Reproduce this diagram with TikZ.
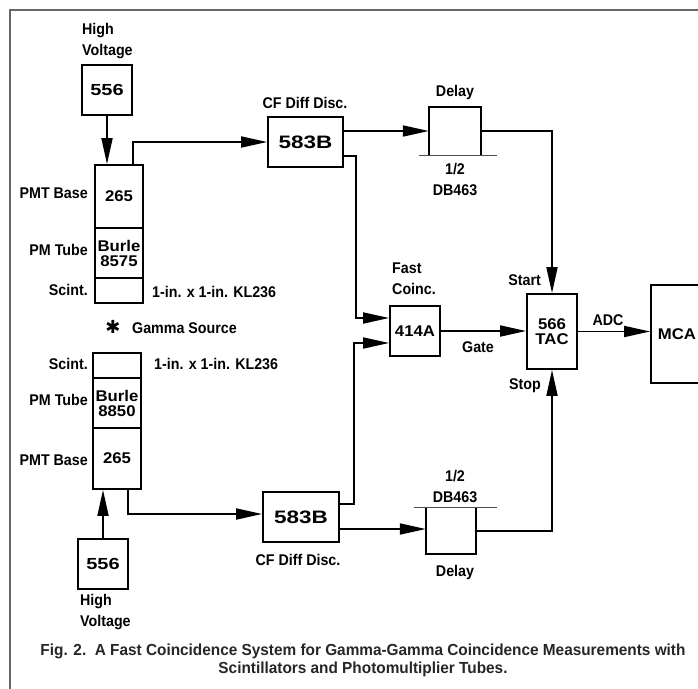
\documentclass[tikz,border=0pt]{standalone}
\usepackage{fontspec}
\setmainfont{Liberation Sans}
\newfontfamily\labf[FakeStretch=0.92]{Liberation Sans}
\newfontfamily\widef[FakeStretch=1.25]{Liberation Sans}
\newfontfamily\midf[FakeStretch=1.08]{Liberation Sans}
\newfontfamily\capf[FakeStretch=0.96]{Liberation Sans}
\newfontfamily\symf{DejaVu Sans}
\usetikzlibrary{arrows.meta}
\newcommand\lblfont{\labf\bfseries\fontsize{15.5}{21}\selectfont}
\newcommand\boxfont{\midf\bfseries\fontsize{15.5}{17}\selectfont}
\newcommand\bigfont{\widef\bfseries\fontsize{16}{18}\selectfont}
\newcommand\hugefont{\widef\bfseries\fontsize{18}{20}\selectfont}
\tikzset{
  blk/.style={draw, line width=1.8pt, inner sep=0pt, align=center, font=\boxfont},
  ghost/.style={draw=none, inner sep=0pt},
  lbl/.style={inner sep=0pt, font=\lblfont},
  arr/.style={line width=1.8pt, -{Triangle[length=26pt,width=11pt]}},
  side/.style={line width=1.8pt},
  thin/.style={line width=1pt, black!70},
  frame/.style={line width=1.2pt, black!60}
}
\begin{document}
\begin{tikzpicture}[x=1pt,y=-1pt]
\useasboundingbox (0,0) rectangle (698,688);
\clip (0,0) rectangle (698,688);
\draw[frame] (10,690) -- (10,10) -- (700,10);

% ---------- upper detector ----------
\node[blk, font=\bigfont, minimum width=50pt, minimum height=50pt] (hvT) at (107,90) {556};
\node[lbl, anchor=west, align=left] (hvTl) at (82,41.5) {High\\Voltage};
\node[blk, minimum width=48pt, minimum height=63pt] (baseT) at (119,196.5) {265};
\node[blk, minimum width=48pt, minimum height=50pt] (tubeT) at (119,253) {Burle\\[-2pt]8575};
\node[blk, minimum width=48pt, minimum height=25pt] (scT) at (119,290.5) {};
\node[lbl, anchor=east] (pbT) at (88,193) {PMT Base};
\node[lbl, anchor=east] (ptT) at (88,250) {PM Tube};
\node[lbl, anchor=east] (scTl) at (88,290) {Scint.};
\node[lbl, anchor=west] (klT) at (152,292) {1-in. x 1-in. KL236};

% gamma source
\node[inner sep=0pt, font=\symf\bfseries\fontsize{18}{18}\selectfont] (star) at (113,327) {✱};
\node[lbl, anchor=west] (gam) at (132,328) {Gamma Source};

% ---------- lower detector ----------
\node[blk, minimum width=48pt, minimum height=25pt] (scB) at (117,365.5) {};
\node[blk, minimum width=48pt, minimum height=50pt] (tubeB) at (117,403) {Burle\\[-2pt]8850};
\node[blk, minimum width=48pt, minimum height=61pt] (baseB) at (117,458.5) {265};
\node[lbl, anchor=east] (scBl) at (88,364) {Scint.};
\node[lbl, anchor=east] (ptB) at (88,400) {PM Tube};
\node[lbl, anchor=east] (pbB) at (88,460) {PMT Base};
\node[lbl, anchor=west] (klB) at (154,364) {1-in. x 1-in. KL236};
\node[blk, font=\bigfont, minimum width=50pt, minimum height=50pt] (hvB) at (103,564) {556};
\node[lbl, anchor=west, align=left] (hvBl) at (80,612.5) {High\\Voltage};

% ---------- discriminators ----------
\node[blk, font=\hugefont, minimum width=75pt, minimum height=50pt] (cfdT) at (305.5,142) {583B};
\node[lbl] (cfdTl) at (305,103) {CF Diff Disc.};
\node[blk, font=\hugefont, minimum width=76pt, minimum height=50pt] (cfdB) at (301,517) {583B};
\node[lbl] (cfdBl) at (298,560) {CF Diff Disc.};

% ---------- delays ----------
\node[ghost, minimum width=52pt, minimum height=48pt] (delT) at (455,131) {};
\draw[side] (delT.south west) -- (delT.north west) -- (delT.north east) -- (delT.south east);
\draw[thin] ([xshift=-10pt]delT.south west) -- ([xshift=16pt]delT.south east);
\node[lbl] (delTl) at (455,92) {Delay};
\node[lbl, align=center] (dbT) at (455,179.5) {1/2\\DB463};

\node[ghost, minimum width=50pt, minimum height=46pt] (delB) at (451,531) {};
\draw[side] (delB.north west) -- (delB.south west) -- (delB.south east) -- (delB.north east);
\draw[thin] ([xshift=-12pt]delB.north west) -- ([xshift=21pt]delB.north east);
\node[lbl, align=center] (dbB) at (455,486) {1/2\\DB463};
\node[lbl] (delBl) at (455,572) {Delay};

% ---------- coincidence, TAC, MCA ----------
\node[blk, font=\boxfont, minimum width=50pt, minimum height=50pt] (coinc) at (415,331) {414A};
\node[lbl, anchor=west, align=left] (fcl) at (392,278.5) {Fast\\Coinc.};
\node[blk, minimum width=50pt, minimum height=75pt] (tac) at (552,331.5) {566\\[-2pt]TAC};
\node[lbl, anchor=east] (startl) at (541,280) {Start};
\node[lbl, anchor=east] (stopl) at (541,386) {Stop};
\node[lbl] (gatel) at (478,347) {Gate};
\node[blk, minimum width=52pt, minimum height=98pt] (mca) at (677,334) {MCA};
\node[lbl] (adcl) at (608,320) {ADC};

% ---------- connectors ----------
\draw[arr] (hvT.south) -- (hvT.south |- baseT.north);
\draw[arr] ([xshift=14pt]baseT.north) |- (cfdT.west);
\draw[arr] ([yshift=11pt]cfdT.east) -- (delT.west);
\draw[arr] ([yshift=-14pt]cfdT.east) -- ++(12,0) |- ([yshift=13pt]coinc.west);
\draw[arr] (delT.east) -| (tac.north);
\draw[arr] (coinc.east) -- (coinc.east -| tac.west);
\draw[arr] (tac.east) -- (tac.east -| mca.west);
\draw[arr] (hvB.north) -- (hvB.north |- baseB.south);
\draw[arr] ([xshift=11pt]baseB.south) |- ([yshift=3pt]cfdB.west);
\draw[arr] ([yshift=13pt]cfdB.east) -- ++(14,0) |- ([yshift=-12pt]coinc.west);
\draw[arr] ([yshift=-12pt]cfdB.east) -- ([yshift=-12pt]cfdB.east -| delB.west);
\draw[arr] (delB.east) -| (tac.south);

% ---------- caption ----------
\node[inner sep=0pt, align=center, text=black!85, font=\capf\bfseries\fontsize{16}{18}\selectfont] (cap) at (363,660)
  {Fig. 2.\ \ A Fast Coincidence System for Gamma-Gamma Coincidence Measurements with\\Scintillators and Photomultiplier Tubes.};
\end{tikzpicture}
\end{document}
